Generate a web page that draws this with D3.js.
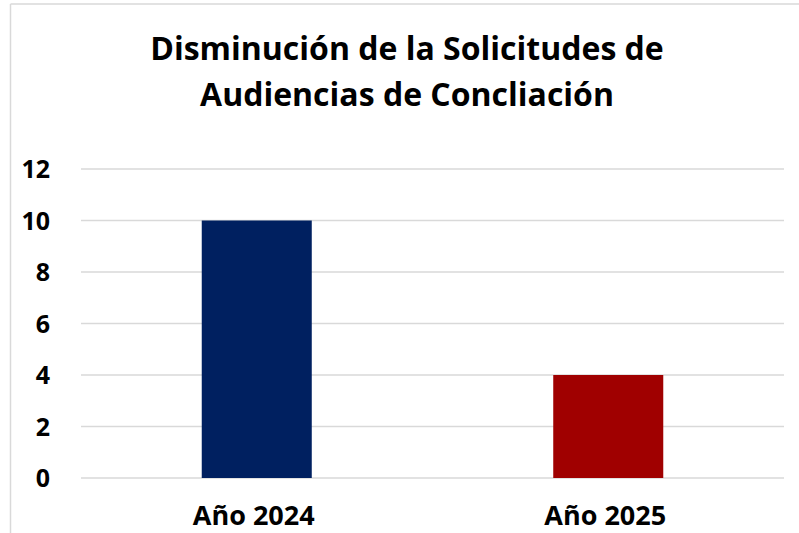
<!DOCTYPE html>
<html>
<head>
<meta charset="utf-8">
<script src="https://cdn.jsdelivr.net/npm/d3@7"></script>
<style>
  body { margin: 0; background: #fff; }
  svg { display: block; font-family: "Open Sans", sans-serif; }
</style>
</head>
<body>
<div id="chart"></div>
<script>
// datos del grafico
var categories = ["Año 2024", "Año 2025"];
var values = [10, 4];
var barColors = ["#002060", "#A00000"];
var yTicks = [0, 2, 4, 6, 8, 10, 12];
var titleLines = ["Disminución de la Solicitudes de", "Audiencias de Concliación"];

var width = 799,
    height = 533;
var margin = { top: 169, right: 15, bottom: 55, left: 81 };

var svg = d3.select("#chart").append("svg")
    .attr("width", width)
    .attr("height", height);

// marco del area del grafico (solo se ve arriba y a la izquierda)
svg.append("line")
    .attr("x1", 10.5).attr("x2", width)
    .attr("y1", 4).attr("y2", 4)
    .attr("stroke", "#d9d9d9").attr("stroke-width", 1.5);
svg.append("line")
    .attr("x1", 10.5).attr("x2", 10.5)
    .attr("y1", 4).attr("y2", height)
    .attr("stroke", "#d9d9d9").attr("stroke-width", 1.5);

var x = d3.scaleBand()
    .domain(categories)
    .range([margin.left, width - margin.right])
    .paddingInner(0.687)
    .paddingOuter(0.3435);

var y = d3.scaleLinear()
    .domain([0, 12])
    .range([height - margin.bottom, margin.top]);

// lineas de cuadricula
svg.append("g")
    .selectAll("line")
    .data(yTicks).enter()
    .append("line")
    .attr("x1", margin.left)
    .attr("x2", width - margin.right)
    .attr("y1", d => y(d))
    .attr("y2", d => y(d))
    .attr("stroke", "#d9d9d9")
    .attr("stroke-width", 1.5);

// etiquetas eje y
svg.append("g")
    .selectAll("text")
    .data(yTicks).enter()
    .append("text")
    .attr("x", 50)
    .attr("y", d => y(d))
    .attr("dy", "0.36em")
    .attr("text-anchor", "end")
    .style("font-size", "25px")
    .style("font-weight", 700)
    .style("fill", "#000")
    .text(d => d);

// barras
svg.append("g")
    .selectAll("rect")
    .data(values).enter()
    .append("rect")
    .attr("x", (d, i) => x(categories[i]))
    .attr("width", x.bandwidth())
    .attr("y", d => y(d))
    .attr("height", d => y(0) - y(d))
    .attr("fill", (d, i) => barColors[i]);

// etiquetas eje x
svg.append("g")
    .selectAll("text")
    .data(categories).enter()
    .append("text")
    .attr("x", d => x(d) + x.bandwidth() / 2 - 3)
    .attr("y", 525)
    .attr("text-anchor", "middle")
    .style("font-size", "27px")
    .style("font-weight", 700)
    .style("fill", "#000")
    .text(d => d);

// titulo
svg.append("g")
    .selectAll("text")
    .data(titleLines).enter()
    .append("text")
    .attr("x", 407)
    .attr("y", (d, i) => 60 + i * 46)
    .attr("text-anchor", "middle")
    .style("font-size", "32px")
    .style("font-weight", 700)
    .style("fill", "#000")
    .text(d => d);
</script>
</body>
</html>
